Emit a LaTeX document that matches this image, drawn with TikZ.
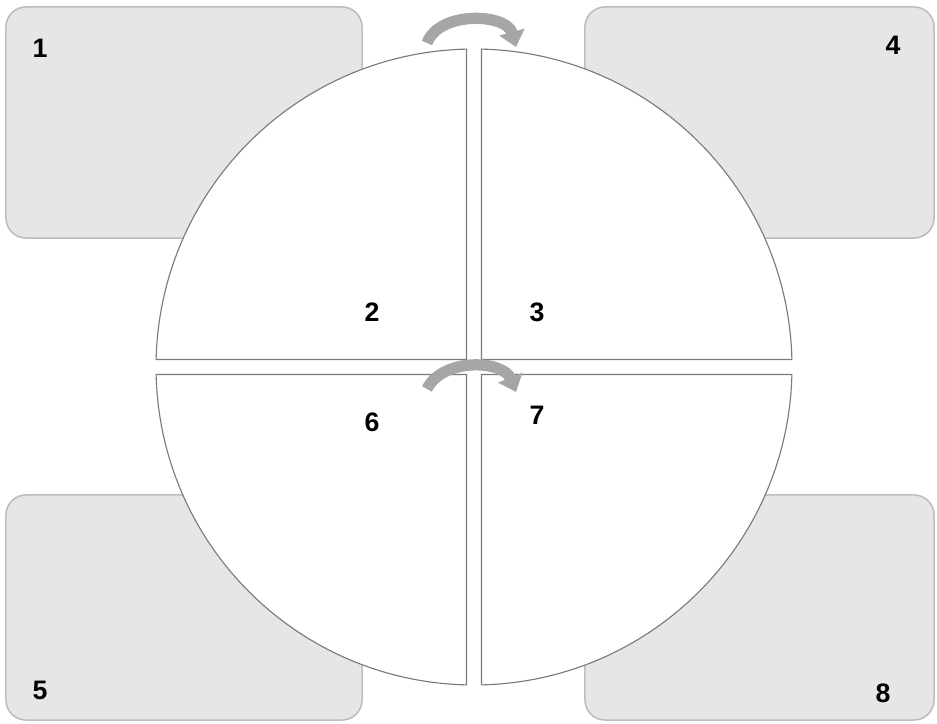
\documentclass[tikz,border=0pt]{standalone}
\usepackage{fontspec}
\setmainfont{Liberation Sans}
\usepackage{xcolor}
\usepackage{tikz}
\usetikzlibrary{positioning,arrows.meta,calc}
\definecolor{QDFill}{HTML}{E6E6E8}
\definecolor{QDEdge}{HTML}{BDBDBF}
\definecolor{QDLine}{HTML}{7A7A7C}
\definecolor{QDArrow}{HTML}{A6A6A8}
\tikzset{
  qdbox/.style={
    rectangle,
    rounded corners=0.5cm,
    draw=QDEdge,
    line width=1.1pt,
    fill=QDFill,
    inner sep=0pt
  },
  qdpiece/.style={draw=QDLine,fill=white,line width=0.8pt,line join=miter},
  qdarrow/.style={-{Triangle[length=11pt,width=18pt]},line width=8pt,draw=QDArrow},
  qdnum/.style={font=\fontsize{19}{21}\selectfont\bfseries,text=black,inner sep=0pt},
}

\begin{document}
\begin{tikzpicture}[x=0.025cm,y=0.025cm]
  \useasboundingbox (0,0) rectangle (937,723);

  % corner panels
  \node[qdbox,minimum width=8.9cm,minimum height=5.775cm] (boxnw) at (184,600.5) {};
  \node[qdbox,minimum width=8.725cm,minimum height=5.775cm] (boxne) at (759.5,600.5) {};
  \node[qdbox,minimum width=8.9cm,minimum height=5.625cm] (boxsw) at (184,115.5) {};
  \node[qdbox,minimum width=8.725cm,minimum height=5.625cm] (boxse) at (759.5,115.5) {};

  % split disc
  \coordinate (ctr) at (474,356);
  \draw[qdpiece] ($(ctr)+(-7.5,7.5)$) -- ($(ctr)+(91.35:318)$)
    arc[start angle=91.35,end angle=178.65,radius=318] -- cycle;
  \draw[qdpiece] ($(ctr)+(7.5,7.5)$) -- ($(ctr)+(1.35:318)$)
    arc[start angle=1.35,end angle=88.65,radius=318] -- cycle;
  \draw[qdpiece] ($(ctr)+(-7.5,-7.5)$) -- ($(ctr)+(181.35:318)$)
    arc[start angle=181.35,end angle=268.65,radius=318] -- cycle;
  \draw[qdpiece] ($(ctr)+(7.5,-7.5)$) -- ($(ctr)+(271.35:318)$)
    arc[start angle=271.35,end angle=358.65,radius=318] -- cycle;

  % turn arrows
  \coordinate (topfrom) at (427,680);
  \coordinate (topto) at (516,676);
  \coordinate (midfrom) at (427,334);
  \coordinate (midto) at (516,331);
  \draw[qdarrow] (topfrom) to[bend left=72] (topto);
  \draw[qdarrow] (midfrom) to[bend left=66] (midto);

  % numbers
  \node[qdnum] (n1) at (40,675) {1};
  \node[qdnum] (n2) at (372,411) {2};
  \node[qdnum] (n3) at (537,411) {3};
  \node[qdnum] (n4) at (893,678) {4};
  \node[qdnum] (n5) at (40,33) {5};
  \node[qdnum] (n6) at (372,301) {6};
  \node[qdnum] (n7) at (537,308) {7};
  \node[qdnum] (n8) at (883,30) {8};
\end{tikzpicture}
\end{document}
